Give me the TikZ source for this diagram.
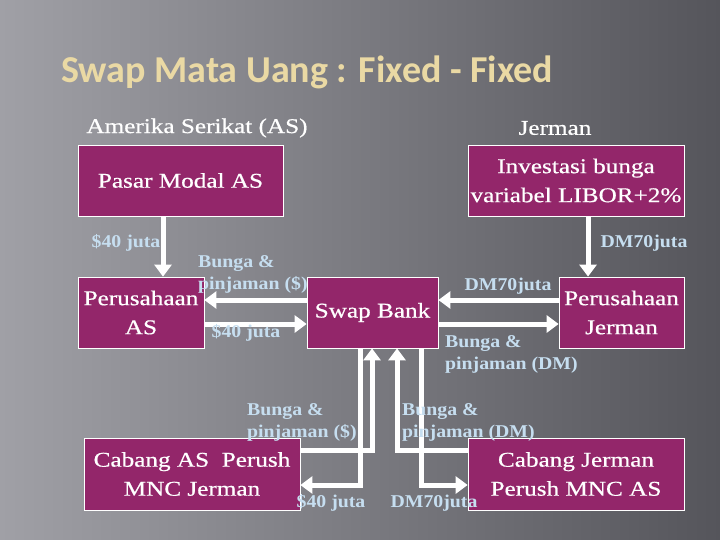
\documentclass[tikz,border=0pt]{standalone}
\usepackage{fontspec}
\setmainfont{Liberation Serif}
\newfontfamily\boxfont[FakeStretch=1.2,FakeBold=0.6]{Liberation Serif}
\newfontfamily\lblfont[FakeStretch=1.1]{Liberation Serif}
\newfontfamily\titlefont{Carlito}
\usetikzlibrary{arrows.meta}

\definecolor{boxfill}{HTML}{93266A}
\definecolor{lblblue}{HTML}{C6DEF0}
\definecolor{titlegold}{HTML}{EAD9A4}
\definecolor{bgleft}{HTML}{A0A0A6}
\definecolor{bgright}{HTML}{55555B}

\tikzset{
    box/.style={draw=white, line width=0.8pt, fill=boxfill, text=white,
        font=\boxfont\fontsize{21}{29}\selectfont, align=center, inner sep=0pt},
    flow/.style={draw=white, line width=5pt, -{Triangle[length=12pt,width=17pt]}},
    lbl/.style={text=lblblue, font=\lblfont\bfseries\fontsize{18}{22}\selectfont,
        align=left, inner sep=0pt},
    head/.style={text=white, font=\boxfont\fontsize{21}{26}\selectfont, inner sep=0pt}
}

\begin{document}
\begin{tikzpicture}[x=1pt,y=-1pt]
    % Background
    \useasboundingbox (0,0) rectangle (720,540);
    \shade[left color=bgleft, right color=bgright] (0,0) rectangle (720,540);

    % Title and headings
    \node[anchor=west, text=titlegold, font=\titlefont\bfseries\fontsize{38}{44}\selectfont, inner sep=0pt]
        (title) at (61,72) {Swap Mata Uang : Fixed - Fixed};
    \node[head] (hAS) at (197,128) {Amerika Serikat (AS)};
    \node[head] (hJ) at (555,128) {Jerman};

    % Boxes
    \node[box, minimum width=205pt, minimum height=71pt] (pasar) at (180.5,180.5) {Pasar Modal AS};
    \node[box, minimum width=216pt, minimum height=71pt] (invest) at (576,180.5) {Investasi bunga\\variabel LIBOR+2\%};
    \node[box, minimum width=126pt, minimum height=71pt] (perusAS) at (141,312.5) {Perusahaan\\AS};
    \node[box, minimum width=131pt, minimum height=71pt] (swap) at (372.5,312.5) {Swap Bank};
    \node[box, minimum width=125pt, minimum height=71pt] (perusJ) at (621.5,312.5) {Perusahaan\\Jerman};
    \node[box, minimum width=216pt, minimum height=72pt] (cabAS) at (192,474) {Cabang AS~ Perush\\MNC Jerman};
    \node[box, minimum width=216pt, minimum height=72pt] (cabJ) at (576,474) {Cabang Jerman\\Perush MNC AS};

    % Flows
    \draw[flow] ([xshift=-17.5pt]pasar.south) -- ([xshift=-17.5pt]pasar.south |- perusAS.north);
    \draw[flow] ([xshift=12pt]invest.south) -- ([xshift=12pt]invest.south |- perusJ.north);
    \draw[flow] ([yshift=12.5pt]swap.west) -- ([yshift=12.5pt]swap.west -| perusAS.east);
    \draw[flow] ([yshift=-11.5pt]perusAS.east) -- ([yshift=-11.5pt]perusAS.east -| swap.west);
    \draw[flow] ([yshift=12.5pt]perusJ.west) -- ([yshift=12.5pt]perusJ.west -| swap.east);
    \draw[flow] ([yshift=-11.5pt]swap.east) -- ([yshift=-11.5pt]swap.east -| perusJ.west);
    \draw[flow] ([xshift=-12.5pt]swap.south) |- ([yshift=-11pt]cabAS.east);
    \draw[flow] ([yshift=24pt]cabAS.east) -| ([xshift=-0.5pt]swap.south);
    \draw[flow] ([yshift=24pt]cabJ.west) -| ([xshift=24.5pt]swap.south);
    \draw[flow] ([xshift=48.5pt]swap.south) |- ([yshift=-11pt]cabJ.west);

    % Flow labels
    \node[lbl] (l1) at (126,243) {\$40 juta};
    \node[lbl, anchor=west] (l2) at (198,274) {Bunga \&\\pinjaman (\$)};
    \node[lbl] (l3) at (246,333) {\$40 juta};
    \node[lbl] (l4) at (644,243) {DM70juta};
    \node[lbl] (l5) at (508,286) {DM70juta};
    \node[lbl, anchor=west] (l6) at (445,354) {Bunga \&\\pinjaman (DM)};
    \node[lbl, anchor=west] (l7) at (247,422) {Bunga \&\\pinjaman (\$)};
    \node[lbl] (l8) at (331,503) {\$40 juta};
    \node[lbl, anchor=west] (l9) at (402,422) {Bunga \&\\pinjaman (DM)};
    \node[lbl] (l10) at (434,503) {DM70juta};
\end{tikzpicture}
\end{document}
